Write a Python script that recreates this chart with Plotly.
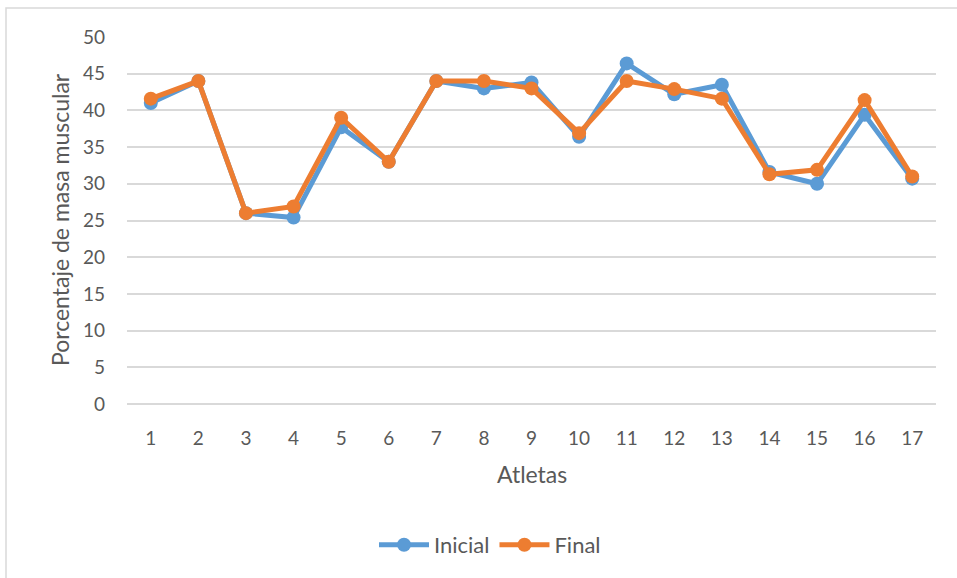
import plotly.graph_objects as go

# Atletas y porcentaje de masa muscular (inicial / final)
atletas = [str(i) for i in range(1, 18)]
inicial = [41.0, 44.0, 26.0, 25.4, 37.7, 33.0, 44.0, 43.0, 43.8, 36.4, 46.4, 42.2, 43.5, 31.6, 30.0, 39.4, 30.7]
final = [41.6, 44.0, 26.0, 26.9, 39.0, 33.0, 44.0, 44.0, 43.0, 36.9, 44.0, 42.9, 41.6, 31.3, 31.9, 41.4, 31.0]
y_ticks = list(range(0, 55, 5))

AZUL = "#5B9BD5"
NARANJA = "#ED7D31"
TEXTO = "#595959"
REJILLA = "#D9D9D9"
FUENTE = "Lato"

fig = go.Figure()
fig.add_trace(go.Scatter(
    x=atletas, y=inicial, name="Inicial", mode="lines+markers",
    line=dict(color=AZUL, width=5), marker=dict(color=AZUL, size=14),
))
fig.add_trace(go.Scatter(
    x=atletas, y=final, name="Final", mode="lines+markers",
    line=dict(color=NARANJA, width=5), marker=dict(color=NARANJA, size=14),
))

W, H = 957, 578
L, R, T, B = 127, 21, 37, 174
pw, ph = W - L - R, H - T - B


def px_x(p):
    return (p - L) / pw


def px_y(p):
    return (H - B - p) / ph


fig.update_layout(
    width=W, height=H,
    margin=dict(l=L, r=R, t=T, b=B, pad=0),
    paper_bgcolor="white", plot_bgcolor="white",
    font=dict(family=FUENTE, color=TEXTO, size=19),
    showlegend=True,
    legend=dict(
        orientation="h", x=px_x(490), y=px_y(545),
        xanchor="center", yanchor="middle",
        font=dict(size=22, color=TEXTO), itemwidth=50,
        bgcolor="rgba(0,0,0,0)",
    ),
    xaxis=dict(
        type="category", range=[-0.5, len(atletas) - 0.5],
        showgrid=False, showline=False, zeroline=False,
        ticks="", tickfont=dict(size=19, color=TEXTO),
        ticklabelstandoff=21,
    ),
    yaxis=dict(
        range=[0, 50], tickvals=y_ticks, showgrid=True, gridcolor=REJILLA,
        gridwidth=1.5, zeroline=True, zerolinecolor=REJILLA, zerolinewidth=1.5,
        showline=False, ticks="",
        tickfont=dict(size=19, color=TEXTO), ticklabelstandoff=21,
    ),
    annotations=[
        dict(text="Atletas", xref="paper", yref="paper",
             x=px_x(532), y=px_y(474), xanchor="center", yanchor="middle",
             showarrow=False, font=dict(size=23, color=TEXTO)),
        dict(text="Porcentaje de masa muscular", xref="paper", yref="paper",
             x=px_x(60), y=px_y(220), xanchor="center", yanchor="middle",
             textangle=-90, showarrow=False, font=dict(size=23, color=TEXTO)),
    ],
    shapes=[
        dict(type="rect", xref="paper", yref="paper",
             x0=px_x(6), y0=px_y(1000), x1=px_x(2000), y1=px_y(8),
             line=dict(color=REJILLA, width=1.5), layer="below"),
    ],
)

fig.write_html("out.html")
